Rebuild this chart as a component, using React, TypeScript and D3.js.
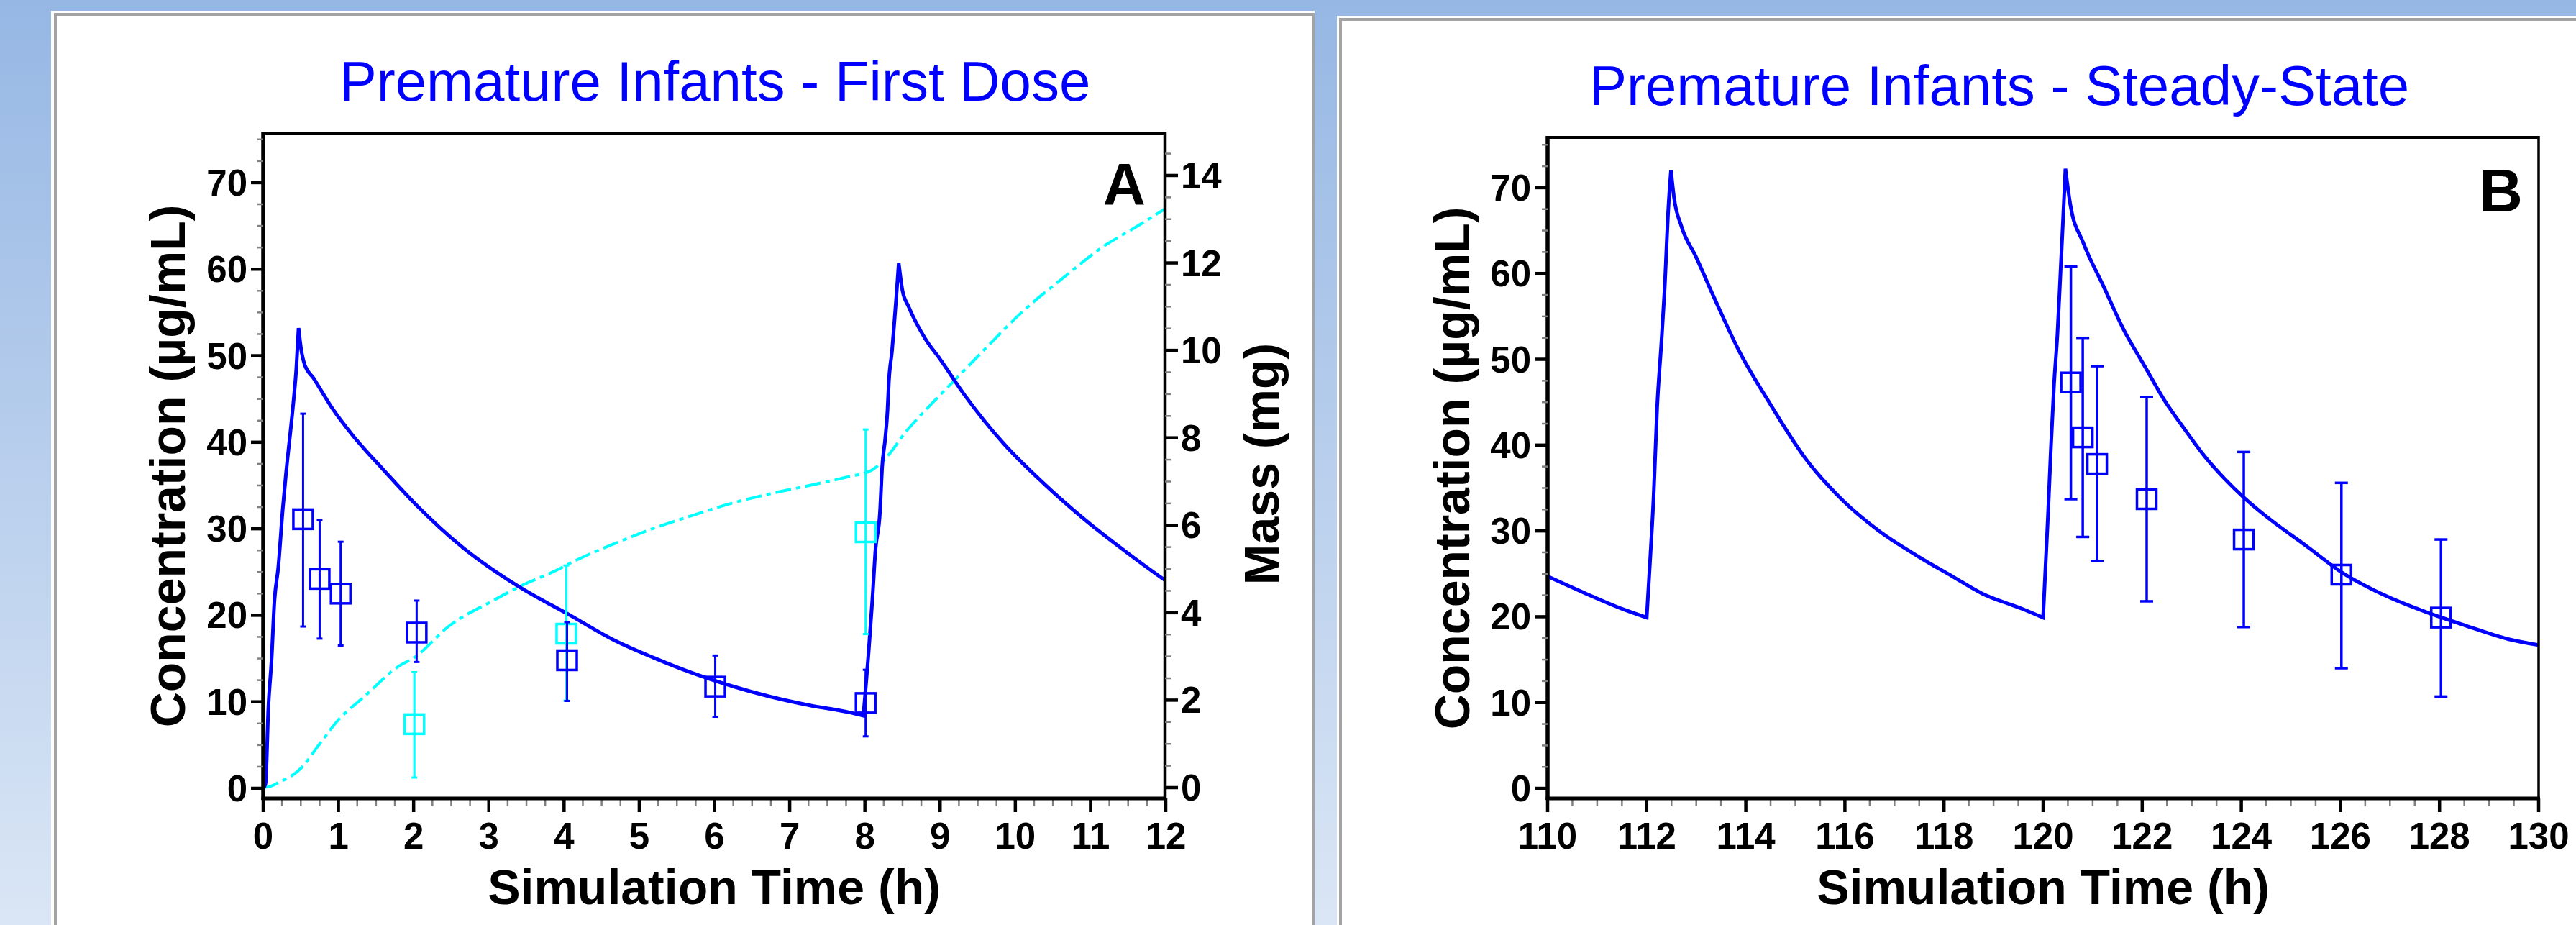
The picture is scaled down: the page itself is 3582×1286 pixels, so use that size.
import React from 'react';
import * as d3 from 'd3';

const W = 3582;
const H = 1286;
const FONT = "'Liberation Sans', Arial, Helvetica, sans-serif";
const BLUE = '#0000ff';
const CYAN = '#00ffff';

// ---------- Panel A : first dose ----------
const simTimeA = [0, 0.03, 0.07, 0.11, 0.15, 0.2, 0.26, 0.3, 0.37, 0.41, 0.44, 0.47, 0.5, 0.55, 0.67, 0.92, 1.18, 1.6, 2.03, 2.63, 3.4, 4.08, 4.67, 5.19, 5.7, 6.22, 6.74, 7.26, 7.78, 7.98, 8.02, 8.05, 8.1, 8.14, 8.2, 8.23, 8.27, 8.3, 8.32, 8.36, 8.39, 8.42, 8.45, 8.5, 8.58, 8.8, 9.0, 9.33, 9.85, 10.37, 10.89, 11.4, 11.95, 12];
const simConcA = [0, 0.5, 9.6, 14.7, 21.7, 25.5, 32.3, 36.1, 41.9, 45.4, 48.5, 53.2, 51.0, 49.0, 47.4, 43.9, 40.9, 36.8, 32.8, 28.0, 23.3, 20.0, 17.1, 15.1, 13.35, 11.85, 10.6, 9.6, 8.8, 8.4, 12.6, 15.8, 21.9, 27.5, 31.9, 37.2, 40.4, 43.6, 47.2, 50.5, 53.7, 57.1, 60.7, 57.5, 55.7, 52.0, 49.6, 45.4, 39.8, 35.3, 31.3, 27.8, 24.3, 24.0];

const massTimeA = [0, 0.1, 0.24, 0.33, 0.5, 0.75, 1.0, 1.35, 1.78, 2.03, 2.46, 3.06, 3.4, 3.91, 4.15, 4.67, 5.19, 5.7, 6.22, 6.74, 7.26, 7.78, 8.09, 8.29, 8.55, 8.81, 9.2, 9.59, 10.11, 10.63, 11.14, 11.66, 12];
const massA = [0, 0.03, 0.15, 0.22, 0.44, 1.0, 1.55, 2.09, 2.75, 3.0, 3.68, 4.28, 4.59, 4.98, 5.19, 5.58, 5.93, 6.22, 6.5, 6.72, 6.91, 7.11, 7.26, 7.56, 8.15, 8.64, 9.33, 10.02, 10.91, 11.65, 12.34, 12.88, 13.25];

const obsTimeA = [0.53, 0.75, 1.03, 2.04, 4.04, 6.01, 8.01];
const obsConcA = [31.1, 24.2, 22.5, 18.0, 14.8, 11.75, 9.86];
const obsConcLoA = [18.7, 17.3, 16.5, 14.6, 10.1, 8.27, 6.0];
const obsConcHiA = [43.3, 31.0, 28.5, 21.7, 19.2, 15.35, 13.7];

const obsMassTimeA = [2.01, 4.03, 8.01];
const obsMassA = [1.45, 3.52, 5.84];
const obsMassLoA = [0.23, 1.99, 3.51];
const obsMassHiA = [2.64, 5.08, 8.19];

const xTicksA = [0, 1, 2, 3, 4, 5, 6, 7, 8, 9, 10, 11, 12];
const yTicksConc = [0, 10, 20, 30, 40, 50, 60, 70];
const yTicksMass = [0, 2, 4, 6, 8, 10, 12, 14];

// ---------- Panel B : steady state ----------
const simTimeB = [110, 110.77, 111.51, 112.0, 112.07, 112.14, 112.21, 112.29, 112.36, 112.44, 112.49, 112.55, 112.7, 112.99, 113.36, 113.88, 114.47, 115.21, 115.95, 116.69, 117.43, 118.17, 118.77, 119.59, 120.0, 120.05, 120.1, 120.16, 120.22, 120.29, 120.35, 120.4, 120.45, 120.55, 120.81, 121.22, 121.63, 122.03, 122.44, 122.85, 123.26, 123.66, 124.07, 124.48, 125.3, 126.1, 126.93, 127.75, 128.56, 129.38, 130];
const simConcB = [24.7, 22.7, 20.9, 19.9, 26.7, 34.1, 44.3, 51.4, 58.0, 67.9, 72.0, 68.9, 65.5, 62.0, 57.2, 50.8, 45.0, 38.4, 33.6, 30.0, 27.2, 24.7, 22.7, 20.9, 19.9, 26.0, 32.0, 40.0, 47.0, 53.0, 60.0, 66.0, 72.2, 68.0, 63.6, 58.5, 53.4, 49.4, 45.3, 41.9, 38.7, 36.1, 33.8, 31.8, 28.3, 24.9, 22.4, 20.5, 18.9, 17.4, 16.7];

const obsTimeB = [120.56, 120.8, 121.09, 122.09, 124.05, 126.02, 128.03];
const obsConcB = [47.3, 40.9, 37.8, 33.7, 29.0, 24.9, 19.9];
const obsConcLoB = [33.7, 29.3, 26.5, 21.8, 18.8, 14.0, 10.7];
const obsConcHiB = [60.8, 52.5, 49.2, 45.6, 39.2, 35.6, 29.0];

const xTicksB = [110, 112, 114, 116, 118, 120, 122, 124, 126, 128, 130];

const titleA = 'Premature Infants - First Dose';
const titleB = 'Premature Infants - Steady-State';
const xTitle = 'Simulation Time (h)';
const yTitle = 'Concentration (µg/mL)';
const y2Title = 'Mass (mg)';

function minorTicks(lo: number, hi: number, step: number, majorStep: number) {
  const out: number[] = [];
  for (let v = 0; v <= hi + 1e-9; v += step) {
    if (v < lo) continue;
    const r = v / majorStep;
    if (Math.abs(r - Math.round(r)) > 1e-6) out.push(v);
  }
  return out;
}

// Split a series at local extrema; each monotone piece is drawn with curveMonotoneX
function segmentedPath(ts: number[], vs: number[], x: any, y: any) {
  const breaks = [0];
  for (let i = 1; i < vs.length - 1; i++) {
    const a = vs[i] - vs[i - 1];
    const b = vs[i + 1] - vs[i];
    if (a * b < 0) breaks.push(i);
  }
  breaks.push(vs.length - 1);
  const gen = d3.line<number>().x((i) => x(ts[i])).y((i) => y(vs[i])).curve(d3.curveMonotoneX);
  let d = '';
  for (let k = 0; k < breaks.length - 1; k++) {
    const idx = d3.range(breaks[k], breaks[k + 1] + 1);
    const p = gen(idx) || '';
    d += k === 0 ? p : 'L' + p.slice(1);
  }
  return d;
}

function Box({ cx, cy, color, s = 27, sw = 3.5 }: any) {
  return <rect x={cx - s / 2} y={cy - s / 2} width={s} height={s} fill="none" stroke={color} strokeWidth={sw} />;
}

function ErrBar({ x, y1, y2, color, cap, sw }: any) {
  return (
    <g stroke={color} strokeWidth={sw}>
      <line x1={x} x2={x} y1={y1} y2={y2} />
      <line x1={x - cap / 2} x2={x + cap / 2} y1={y1} y2={y1} />
      <line x1={x - cap / 2} x2={x + cap / 2} y1={y2} y2={y2} />
    </g>
  );
}

function App() {
  const xA = d3.scaleLinear().domain([0, 12]).range([366, 1621]);
  const yA = d3.scaleLinear().domain([-1.164, 75.73]).range([1110, 185]);
  const yA2 = d3.scaleLinear().domain([-0.247, 14.97]).range([1110, 185]);
  const xB = d3.scaleLinear().domain([110, 130]).range([2152, 3530]);
  const yB = d3.scaleLinear().domain([-1.17, 75.86]).range([1110, 191]);

  const lineA = segmentedPath(simTimeA, simConcA, xA, yA);
  const massLine = d3.line<number>().x((d, i) => xA(massTimeA[i])).y((d) => yA2(d)).curve(d3.curveMonotoneX)(massA) || '';
  const lineB = segmentedPath(simTimeB, simConcB, xB, yB);

  const tickFont = { fontFamily: FONT, fontWeight: 700, fontSize: 51 } as any;
  const titleFont = { fontFamily: FONT, fontWeight: 700, fontSize: 68 } as any;

  const renderXAxis = (x: any, ticks: number[], minorStep: number, majorStep: number, y0: number, l: number, r: number) => {
    const d = x.domain();
    const minors: number[] = [];
    for (let v = d[0]; v <= d[1] + 1e-9; v += minorStep) {
      const k = (v - d[0]) / majorStep;
      if (Math.abs(k - Math.round(k)) > 1e-6) minors.push(v);
    }
    return (
      <g>
        {minors.map((v) => (
          <line key={'m' + v} x1={x(v)} x2={x(v)} y1={y0} y2={y0 + 11} stroke="#808080" strokeWidth={2.5} />
        ))}
        {ticks.map((v) => (
          <line key={'M' + v} x1={x(v)} x2={x(v)} y1={y0} y2={y0 + 19} stroke="#000" strokeWidth={4.5} />
        ))}
        {ticks.map((v) => (
          <text key={'t' + v} x={x(v)} y={1180} textAnchor="middle" {...tickFont}>{v}</text>
        ))}
        <line x1={l - 2.5} x2={r + 2} y1={y0} y2={y0} stroke="#000" strokeWidth={5} />
      </g>
    );
  };

  const renderYAxisLeft = (y: any, x0: number, ticks: number[], minors: number[], labelX: number) => (
    <g>
      {minors.map((v) => (
        <line key={'m' + v} x1={x0 - 8} x2={x0} y1={y(v)} y2={y(v)} stroke="#808080" strokeWidth={2.5} />
      ))}
      {ticks.map((v) => (
        <line key={'M' + v} x1={x0 - 17} x2={x0} y1={y(v)} y2={y(v)} stroke="#000" strokeWidth={4.5} />
      ))}
      {ticks.map((v) => (
        <text key={'t' + v} x={labelX} y={y(v) + 18} textAnchor="end" {...tickFont}>{v}</text>
      ))}
    </g>
  );

  const renderYAxisRight = (y: any, x0: number, ticks: number[], minors: number[], labelX: number) => (
    <g>
      {minors.map((v) => (
        <line key={'m' + v} x1={x0} x2={x0 + 9} y1={y(v)} y2={y(v)} stroke="#808080" strokeWidth={2.5} />
      ))}
      {ticks.map((v) => (
        <line key={'M' + v} x1={x0} x2={x0 + 18} y1={y(v)} y2={y(v)} stroke="#000" strokeWidth={4.5} />
      ))}
      {ticks.map((v) => (
        <text key={'t' + v} x={labelX} y={y(v) + 18} textAnchor="start" {...tickFont}>{v}</text>
      ))}
    </g>
  );

  return (
    <div style={{ position: 'absolute', left: 0, top: 0, width: W, height: H }}>
      <svg width={W} height={H} viewBox={`0 0 ${W} ${H}`} style={{ display: 'block' }}>
        <defs>
          <linearGradient id="bg" x1="0" y1="0" x2="0" y2="1">
            <stop offset="0" stopColor="#96b7e4" />
            <stop offset="1" stopColor="#dae6f5" />
          </linearGradient>
          <clipPath id="clipA">
            <rect x={366} y={185} width={1621 - 366} height={1110 - 185} />
          </clipPath>
          <clipPath id="clipB">
            <rect x={2152} y={191} width={3530 - 2152} height={1110 - 191} />
          </clipPath>
        </defs>
        <rect x={0} y={0} width={W} height={H} fill="url(#bg)" />

        {/* Panel A frame */}
        <rect x={71} y={15} width={1757} height={H - 15} fill="#fff" />
        <rect x={75} y={18} width={1753} height={4} fill="#a3a3a3" />
        <rect x={75} y={18} width={4} height={H - 18} fill="#a3a3a3" />
        <rect x={1825} y={18} width={3} height={H - 18} fill="#a3a3a3" />

        {/* Panel B frame */}
        <rect x={1859} y={22} width={W - 1859} height={H - 22} fill="#fff" />
        <rect x={1862} y={25} width={W - 1862} height={4} fill="#a3a3a3" />
        <rect x={1862} y={25} width={4} height={H - 25} fill="#a3a3a3" />

        {/* ===== Panel A ===== */}
        <text x={994} y={140} textAnchor="middle" fontFamily={FONT} fontSize={78} fill={BLUE}>{titleA}</text>

        <g clipPath="url(#clipA)">
          <path d={massLine} fill="none" stroke={CYAN} strokeWidth={4} strokeDasharray="22 7 6 7" />
          <path d={lineA} fill="none" stroke={BLUE} strokeWidth={5} strokeLinejoin="miter" />
        </g>

        {obsMassTimeA.map((t, i) => (
          <g key={'ma' + i}>
            <ErrBar x={xA(t)} y1={yA2(obsMassHiA[i])} y2={yA2(obsMassLoA[i])} color={CYAN} cap={8} sw={3} />
            <Box cx={xA(t)} cy={yA2(obsMassA[i])} color={CYAN} />
          </g>
        ))}
        {obsTimeA.map((t, i) => (
          <g key={'ca' + i}>
            <ErrBar x={xA(t)} y1={yA(obsConcHiA[i])} y2={yA(obsConcLoA[i])} color={BLUE} cap={8} sw={3} />
            <Box cx={xA(t)} cy={yA(obsConcA[i])} color={BLUE} />
          </g>
        ))}

        <line x1={366} x2={1620} y1={185} y2={185} stroke="#000" strokeWidth={4} />
        <line x1={1620} x2={1620} y1={183} y2={1112} stroke="#000" strokeWidth={4.5} />
        <line x1={366} x2={366} y1={183} y2={1112} stroke="#000" strokeWidth={5.5} />
        {renderXAxis(xA, xTicksA, 0.25, 1, 1110, 366, 1620)}
        {renderYAxisLeft(yA, 366, yTicksConc, minorTicks(0, 75.7, 2.5, 10), 344)}
        {renderYAxisRight(yA2, 1620, yTicksMass, minorTicks(0, 14.97, 0.5, 2), 1642)}

        <text x={1593} y={284} textAnchor="end" fontFamily={FONT} fontWeight={700} fontSize={82}>A</text>

        <text transform="translate(257,648) rotate(-90)" textAnchor="middle" {...titleFont}>{yTitle}</text>
        <text transform="translate(1778,645) rotate(-90)" textAnchor="middle" {...titleFont}>{y2Title}</text>
        <text x={993} y={1257} textAnchor="middle" {...titleFont}>{xTitle}</text>

        {/* ===== Panel B ===== */}
        <text x={2780} y={146} textAnchor="middle" fontFamily={FONT} fontSize={78} fill={BLUE}>{titleB}</text>

        <g clipPath="url(#clipB)">
          <path d={lineB} fill="none" stroke={BLUE} strokeWidth={5} />
        </g>
        {obsTimeB.map((t, i) => (
          <g key={'cb' + i}>
            <ErrBar x={xB(t)} y1={yB(obsConcHiB[i])} y2={yB(obsConcLoB[i])} color={BLUE} cap={18} sw={3.5} />
            <Box cx={xB(t)} cy={yB(obsConcB[i])} color={BLUE} />
          </g>
        ))}

        <line x1={2152} x2={3530} y1={191} y2={191} stroke="#000" strokeWidth={4} />
        <line x1={3530} x2={3530} y1={189} y2={1112} stroke="#000" strokeWidth={3.5} />
        <line x1={2152} x2={2152} y1={189} y2={1112} stroke="#000" strokeWidth={5.5} />
        {renderXAxis(xB, xTicksB, 0.5, 2, 1110, 2152, 3530)}
        {renderYAxisLeft(yB, 2152, yTicksConc, minorTicks(0, 75.8, 2.5, 10), 2129)}

        <text x={3508} y={294} textAnchor="end" fontFamily={FONT} fontWeight={700} fontSize={84}>B</text>

        <text transform="translate(2043,651) rotate(-90)" textAnchor="middle" {...titleFont}>{yTitle}</text>
        <text x={2841} y={1257} textAnchor="middle" {...titleFont}>{xTitle}</text>
      </svg>
    </div>
  );
}

export default App;
